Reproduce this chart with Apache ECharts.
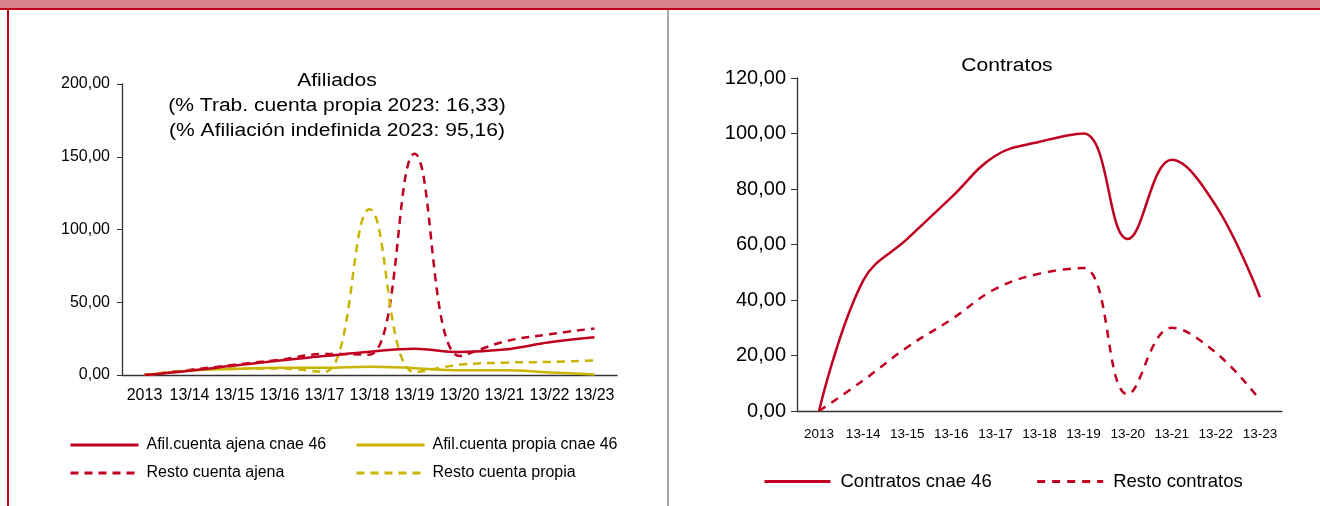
<!DOCTYPE html>
<html>
<head>
<meta charset="utf-8">
<script src="https://cdn.jsdelivr.net/npm/echarts@6/dist/echarts.min.js"></script>
<style>
html,body{margin:0;padding:0;background:#fff;}
#c{width:1320px;height:506px;}
</style>
</head>
<body>
<div id="c"></div>
<script>
// ---- data ----
const catsAfil = ['2013','13/14','13/15','13/16','13/17','13/18','13/19','13/20','13/21','13/22','13/23'];
const afilAjena46 = [0, 3, 6.5, 10, 13, 16, 18, 15.8, 17.5, 22.5, 26];
const afilPropia46 = [0, 3, 4.2, 5, 5, 5.7, 4.7, 3.2, 3.2, 1.8, 0.3];
const restoAjena = [0, 3.5, 7, 10.5, 14.5, 14, 152, 13, 23, 28, 32];
const restoPropia = [0, 3, 4.5, 4.5, 2, 114, 2, 7, 8.5, 9, 10];

const catsContr = ['2013','13-14','13-15','13-16','13-17','13-18','13-19','13-20','13-21','13-22','13-23'];
const contratos46 = [0, 47, 62, 77, 92, 97, 100, 62, 90.5, 74, 41];
const restoContratos = [0, 11, 23, 33, 44, 49.5, 51.5, 6, 30, 21, 4];

const afilTitle = ['Afiliados', '(% Trab. cuenta propia 2023: 16,33)', '(% Afiliación indefinida 2023: 95,16)'];
const contrTitle = 'Contratos';

const RED = '#C00020';
const YEL = '#C9B400';
const FONT = 'Liberation Sans, Arial, sans-serif';
const fmt = v => v.toFixed(2).replace('.', ',');

const titleTexts = afilTitle.map((t, i) => ({
  type: 'text', x: 337, y: 81 + i * 25, scaleX: 1.17, silent: true,
  style: {text: t, font: '18px ' + FONT, fill: '#000', align: 'center', verticalAlign: 'middle'}
}));
titleTexts.push({
  type: 'text', x: 1007, y: 66, scaleX: 1.17, silent: true,
  style: {text: contrTitle, font: '18px ' + FONT, fill: '#000', align: 'center', verticalAlign: 'middle'}
});

const chart = echarts.init(document.getElementById('c'), null, {renderer: 'canvas'});
chart.setOption({
  animation: false,
  backgroundColor: '#fff',
  textStyle: {fontFamily: FONT, color: '#000'},
  graphic: [
    {type: 'rect', shape: {x: 0, y: 0, width: 1320, height: 8}, style: {fill: '#DC848C'}, silent: true},
    {type: 'rect', shape: {x: 0, y: 8, width: 1320, height: 2}, style: {fill: '#C00018'}, silent: true},
    {type: 'rect', shape: {x: 7, y: 8, width: 2, height: 498}, style: {fill: '#C00018'}, silent: true},
    {type: 'rect', shape: {x: 667, y: 10, width: 2, height: 496}, style: {fill: '#A6A6A6'}, silent: true}
  ].concat(titleTexts),
  legend: [
    {orient: 'vertical', left: 64, top: 432, itemWidth: 68, itemHeight: 14, itemGap: 12,
     itemStyle: {opacity: 0}, lineStyle: {width: 3},
     data: ['Afil.cuenta ajena cnae 46', 'Resto cuenta ajena'],
     textStyle: {fontFamily: FONT, fontSize: 16, color: '#000', padding: [0, 0, 0, 3]}},
    {orient: 'vertical', left: 350, top: 432, itemWidth: 68, itemHeight: 14, itemGap: 12,
     itemStyle: {opacity: 0}, lineStyle: {width: 3},
     data: ['Afil.cuenta propia cnae 46', 'Resto cuenta propia'],
     textStyle: {fontFamily: FONT, fontSize: 16, color: '#000', padding: [0, 0, 0, 3]}},
    {orient: 'horizontal', left: 758, top: 467, itemWidth: 66, itemHeight: 16, itemGap: 44,
     itemStyle: {opacity: 0}, lineStyle: {width: 3},
     data: ['Contratos cnae 46', 'Resto contratos'],
     textStyle: {fontFamily: FONT, fontSize: 18.5, color: '#000', padding: [0, 0, 0, 5]}}
  ],
  grid: [
    {left: 122, right: 703, top: 84, bottom: 131},
    {left: 797, right: 38, top: 78, bottom: 95}
  ],
  xAxis: [
    {type: 'category', gridIndex: 0, data: catsAfil, boundaryGap: true,
     axisLine: {lineStyle: {color: '#333', width: 1.3}}, axisTick: {show: false},
     axisLabel: {fontFamily: FONT, fontSize: 16, color: '#000', margin: 13, interval: 0}},
    {type: 'category', gridIndex: 1, data: catsContr, boundaryGap: true,
     axisLine: {lineStyle: {color: '#333', width: 1.3}}, axisTick: {show: false},
     axisLabel: {fontFamily: FONT, fontSize: 13.5, color: '#000', margin: 16, interval: 0}}
  ],
  yAxis: [
    {type: 'value', gridIndex: 0, min: 0, max: 200, interval: 50,
     axisLine: {show: true, lineStyle: {color: '#333', width: 1.3}},
     axisTick: {show: true, length: 5, lineStyle: {color: '#333'}},
     splitLine: {show: false},
     axisLabel: {fontFamily: FONT, fontSize: 16, color: '#000', margin: 12, formatter: fmt}},
    {type: 'value', gridIndex: 1, min: 0, max: 120, interval: 20,
     axisLine: {show: true, lineStyle: {color: '#333', width: 1.3}},
     axisTick: {show: true, length: 6, lineStyle: {color: '#333'}},
     splitLine: {show: false},
     axisLabel: {fontFamily: FONT, fontSize: 20, color: '#000', margin: 11, formatter: fmt}}
  ],
  series: [
    {name: 'Afil.cuenta ajena cnae 46', type: 'line', xAxisIndex: 0, yAxisIndex: 0, data: afilAjena46,
     smooth: 0.4, symbol: 'none', lineStyle: {color: RED, width: 2.5}, itemStyle: {color: RED}, z: 4},
    {name: 'Afil.cuenta propia cnae 46', type: 'line', xAxisIndex: 0, yAxisIndex: 0, data: afilPropia46,
     smooth: 0.4, symbol: 'none', lineStyle: {color: YEL, width: 2.5}, itemStyle: {color: YEL}, z: 3},
    {name: 'Resto cuenta ajena', type: 'line', xAxisIndex: 0, yAxisIndex: 0, data: restoAjena,
     smooth: 0.4, symbol: 'none', lineStyle: {color: RED, width: 2.5, type: [8, 6]}, itemStyle: {color: RED}, z: 2},
    {name: 'Resto cuenta propia', type: 'line', xAxisIndex: 0, yAxisIndex: 0, data: restoPropia,
     smooth: 0.4, symbol: 'none', lineStyle: {color: YEL, width: 2.5, type: [8, 6]}, itemStyle: {color: YEL}, z: 2},
    {name: 'Contratos cnae 46', type: 'line', xAxisIndex: 1, yAxisIndex: 1, data: contratos46,
     smooth: 0.4, symbol: 'none', lineStyle: {color: RED, width: 2.5}, itemStyle: {color: RED}},
    {name: 'Resto contratos', type: 'line', xAxisIndex: 1, yAxisIndex: 1, data: restoContratos,
     smooth: 0.4, symbol: 'none', lineStyle: {color: RED, width: 2.5, type: [8, 7]}, itemStyle: {color: RED}}
  ]
});
</script>
</body>
</html>
